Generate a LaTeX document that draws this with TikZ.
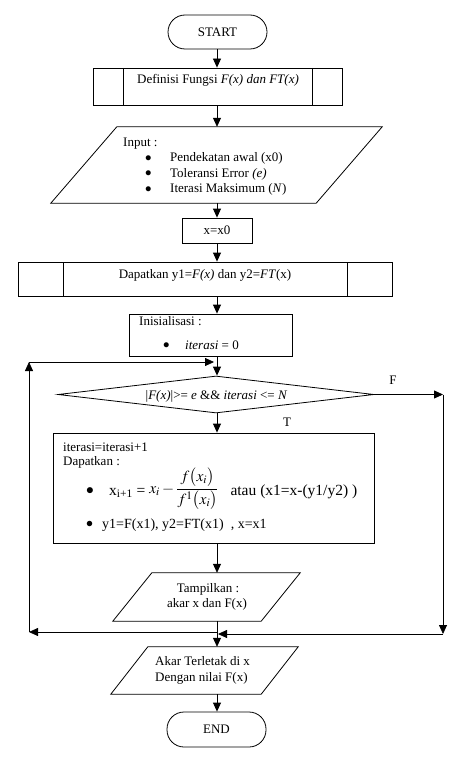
\documentclass[tikz,border=0pt]{standalone}
\usepackage{mathptmx}
\usepackage{fontspec}
\setmainfont{Liberation Serif}
\usetikzlibrary{arrows.meta,shapes.geometric}
\newcommand{\blt}{\raisebox{0.5pt}{$\bullet$}}
\begin{document}
\begin{tikzpicture}[x=1pt,y=-1pt,
  every node/.style={font=\fontsize{13}{15.5}\selectfont, inner sep=0pt},
  shapeline/.style={draw, line width=0.8pt},
  term/.style={shapeline, rectangle, rounded corners=17pt, minimum width=99pt, minimum height=34pt},
  proc/.style={shapeline, rectangle},
  predef/.style={proc, path picture={
      \draw[line width=0.8pt] ([xshift=#1]path picture bounding box.north west) -- ([xshift=#1]path picture bounding box.south west);
      \draw[line width=0.8pt] ([xshift=-#1]path picture bounding box.north east) -- ([xshift=-#1]path picture bounding box.south east);}},
  iobase/.style={rectangle, minimum height=#1},
  txt/.style={anchor=base west},
  ctxt/.style={anchor=base},
  arr/.style={line width=0.8pt, -{Triangle[length=9pt,width=8pt]}},
  conn/.style={line width=0.8pt}
]
\useasboundingbox (0,0) rectangle (472,757);
\coordinate (ax) at (217,0);

% START
\node[term] (start) at (217.5,32) {START};

% Definisi
\node[predef=30pt, minimum width=249pt, minimum height=37pt] (def) at (217.5,86.5) {};
\node[ctxt] (deft) at (218,84) {Definisi Fungsi \textit{F(x) dan FT(x)}};

% Input parallelogram
\node[iobase=76pt, minimum width=265pt] (inp) at (216.5,165) {};
\draw[shapeline] ([xshift=33pt]inp.north west) -- ([xshift=33pt]inp.north east)
   -- ([xshift=-33pt]inp.south east) -- ([xshift=-33pt]inp.south west) -- cycle;
\node[txt] (inp0) at (123,146.5) {Input :};
\node[txt] (inp1) at (145,161.5) {\makebox[25pt][l]{\blt}Pendekatan awal (x0)};
\node[txt] (inp2) at (145,177) {\makebox[25pt][l]{\blt}Toleransi Error \textit{(e)}};
\node[txt] (inp3) at (145,192.5) {\makebox[25pt][l]{\blt}Iterasi Maksimum (\textit{N})};

% x=x0
\node[proc, minimum width=70pt, minimum height=25pt] (xx0) at (217,230.5) {x=x0};

% Dapatkan
\node[predef=45pt, minimum width=374pt, minimum height=34pt] (dap) at (205,279) {};
\node[ctxt] (dapt) at (205,278) {Dapatkan y1=\textit{F(x)} dan y2=\textit{FT}(x)};

% Inisialisasi
\node[proc, minimum width=163pt, minimum height=42pt] (init) at (210.5,335) {};
\node[txt] (init1) at (139,325) {Inisialisasi :};
\node[txt] (init2) at (163,349) {\makebox[22pt][l]{\blt}\textit{iterasi} = 0};

% Decision
\node[shapeline, diamond, minimum width=316pt, minimum height=37pt] (dia) at (216,394.5) {};
\node[ctxt] (diat) at (216.5,399) {|\textit{F(x)}|>= \textit{e} \&\& \textit{iterasi} <= \textit{N}};
\node[ctxt] (flab) at (393,384) {F};
\node[ctxt] (tlab) at (287,426) {T};

% Big process box
\node[proc, minimum width=321pt, minimum height=110pt] (big) at (213.5,488) {};
\node[txt] (big1) at (63,451) {iterasi=iterasi+1};
\node[txt] (big2) at (63,465.5) {Dapatkan :};
\node[txt, font=\fontsize{15.5}{18}\selectfont] (big3) at (86,495)
  {\makebox[23pt][l]{\blt}x\textsubscript{i+1} =\ \raisebox{2pt}{$\displaystyle x_{i} - \frac{f\bigl(x_{i}\bigr)}{f^{1}\bigl(x_{i}\bigr)}$}\hspace{12pt}atau (x1=x-(y1/y2) )};
\node[txt, font=\fontsize{14}{17}\selectfont] (big4) at (86,528)
  {\makebox[16pt][l]{\blt}y1=F(x1), y2=FT(x1)\ \ , x=x1};

% Tampilkan parallelogram
\node[iobase=48pt, minimum width=148pt] (tamp) at (206.5,597) {};
\draw[shapeline] ([xshift=19.5pt]tamp.north west) -- ([xshift=19.5pt]tamp.north east)
   -- ([xshift=-19.5pt]tamp.south east) -- ([xshift=-19.5pt]tamp.south west) -- cycle;
\node[ctxt] (tamp1) at (208,592) {Tampilkan :};
\node[ctxt] (tamp2) at (207,607) {akar x dan F(x)};

% Akar parallelogram
\node[iobase=47pt, minimum width=150pt] (akar) at (204.5,670.5) {};
\draw[shapeline] ([xshift=18.5pt]akar.north west) -- ([xshift=18.5pt]akar.north east)
   -- ([xshift=-18.5pt]akar.south east) -- ([xshift=-18.5pt]akar.south west) -- cycle;
\node[txt] (akar1) at (155,665) {Akar Terletak di x};
\node[txt] (akar2) at (155,681) {Dengan nilai F(x)};

% END
\node[term, minimum height=35pt] (end) at (216.5,729.5) {END};

% Connector coordinates
\coordinate (j1) at (217,632);
\coordinate (L1) at (29,632);
\coordinate (L2) at (29,362);
\coordinate (L3) at (214,362);
\coordinate (R1) at (443,394.5);
\coordinate (R2) at (443,634);
\coordinate (R3) at (218,634);

% Main flow
\draw[arr] (start.south -| ax) -- (def.north -| ax);
\draw[arr] (def.south -| ax) -- (inp.north -| ax);
\draw[arr] (inp.south -| ax) -- (xx0.north -| ax);
\draw[arr] (xx0.south -| ax) -- (dap.north -| ax);
\draw[arr] (dap.south -| ax) -- (init.north -| ax);
\draw[arr] (init.south -| ax) -- (dia.north -| ax);
\draw[arr] (dia.south -| ax) -- (big.north -| ax);
\draw[arr] (big.south -| ax) -- (tamp.north -| ax);
\draw[conn] (tamp.south -| ax) -- (j1);
\draw[arr] (j1) -- (akar.north -| ax);
\draw[arr] (akar.south -| ax) -- (end.north -| ax);

% Loop back
\draw[arr] (j1) -- (L1);
\draw[arr] (L1) -- (L2);
\draw[arr] (L2) -- (L3);

% False branch
\draw[arr] (dia.east) -- (R1);
\draw[arr] (R1) -- (R2);
\draw[arr] (R2) -- (R3);
\end{tikzpicture}
\end{document}
